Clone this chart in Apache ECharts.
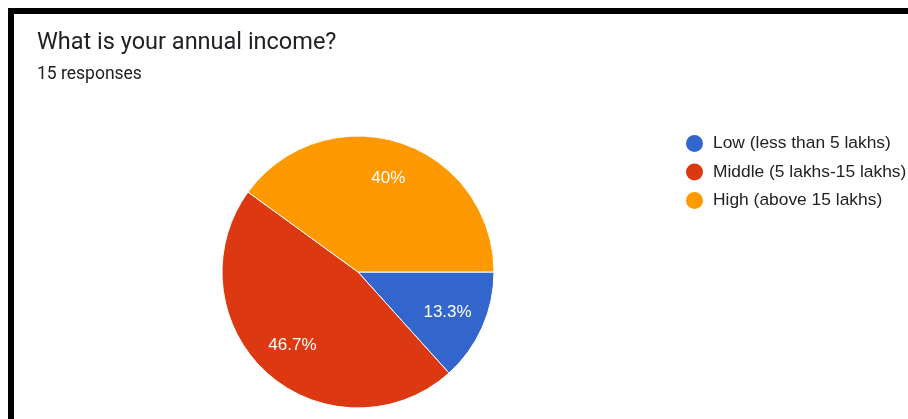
<!DOCTYPE html>
<html>
<head>
<meta charset="utf-8">
<style>
  html, body { margin: 0; padding: 0; background: #fff; }
  #chart { width: 908px; height: 419px; }
</style>
<script src="https://cdn.jsdelivr.net/npm/echarts@6/dist/echarts.min.js"></script>
</head>
<body>
<div id="chart"></div>
<script>
// Survey answers: annual income brackets and response counts
const categories = ['Low (less than 5 lakhs)', 'Middle (5 lakhs-15 lakhs)', 'High (above 15 lakhs)'];
const counts = [2, 7, 6];
const colors = ['#3366CC', '#DC3912', '#FF9900'];
const questionTitle = 'What is your annual income?';
const totalResponses = counts.reduce((a, b) => a + b, 0);
const responsesText = totalResponses + ' responses';

const pieData = categories.map((name, i) => ({
  name: name,
  value: counts[i],
  itemStyle: { color: colors[i] }
}));

const center = [358, 272];
const chart = echarts.init(document.getElementById('chart'));

chart.setOption({
  animation: false,
  backgroundColor: '#ffffff',
  title: {
    text: questionTitle,
    subtext: responsesText,
    left: 32,
    top: 26,
    itemGap: 11,
    textStyle: { fontFamily: 'Roboto', fontSize: 23.5, fontWeight: 'normal', color: '#202124' },
    subtextStyle: { fontFamily: 'Roboto', fontSize: 17.5, color: '#202124' }
  },
  legend: {
    orient: 'vertical',
    left: 679,
    top: 128,
    icon: 'circle',
    itemWidth: 19,
    itemHeight: 19,
    itemGap: 7.5,
    data: categories,
    textStyle: {
      fontFamily: 'Liberation Sans, Arial',
      fontSize: 17.4,
      lineHeight: 19,
      color: '#222222',
      padding: [0, 0, 0, 4]
    }
  },
  graphic: [
    { type: 'rect', shape: { x: 8, y: 8, width: 900, height: 6 }, style: { fill: '#000' }, silent: true },
    { type: 'rect', shape: { x: 8, y: 8, width: 6, height: 411 }, style: { fill: '#000' }, silent: true }
  ],
  series: [
    {
      // visible pie, slices run clockwise from 3 o'clock
      type: 'pie',
      center: center,
      radius: 136,
      startAngle: 0,
      clockwise: true,
      data: pieData,
      label: { show: false },
      labelLine: { show: false },
      itemStyle: { borderColor: '#ffffff', borderWidth: 1 },
      emphasis: { disabled: true }
    },
    {
      // transparent ring that carries the percentage labels
      type: 'pie',
      center: center,
      radius: [86, 104],
      startAngle: 0,
      clockwise: true,
      silent: true,
      data: pieData.map(d => ({ name: d.name, value: d.value, itemStyle: { color: 'rgba(0,0,0,0)' } })),
      label: {
        show: true,
        position: 'inside',
        formatter: p => (Math.round(p.percent * 10) / 10) + '%',
        fontFamily: 'Liberation Sans, Arial',
        fontSize: 17,
        color: '#ffffff'
      },
      percentPrecision: 1,
      labelLine: { show: false },
      emphasis: { disabled: true }
    }
  ]
});
</script>
</body>
</html>
